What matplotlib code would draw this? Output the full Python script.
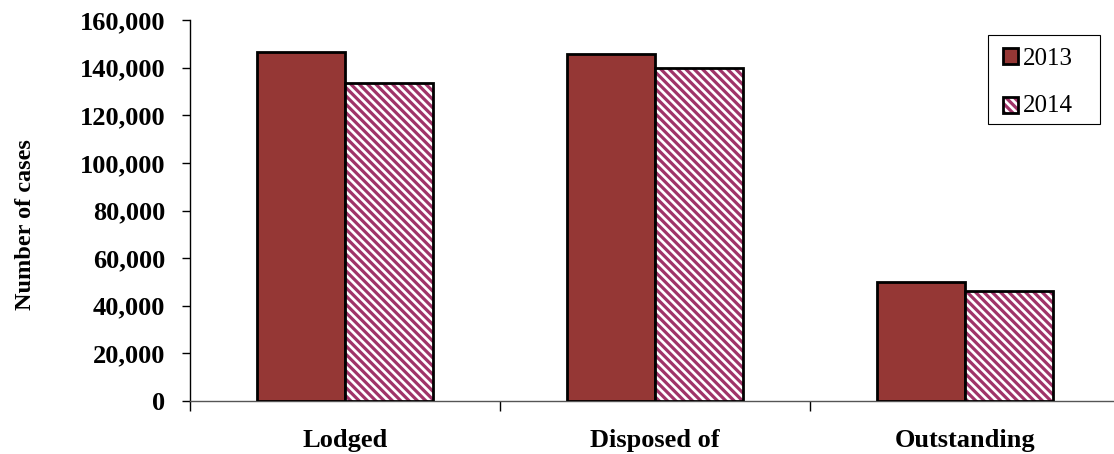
import matplotlib
matplotlib.use("Agg")
import matplotlib.pyplot as plt
import numpy as np
from matplotlib.patches import Patch, Rectangle
from matplotlib.ticker import FuncFormatter
from matplotlib.legend_handler import HandlerBase

categories = ["Lodged", "Disposed of", "Outstanding"]
years = ["2013", "2014"]
cases2013 = [146700, 145800, 50000]
cases2014 = [133400, 139800, 46300]

solidColor = "#953735"
hatchColor = "#A03468"
hatchPattern = "\\\\\\\\"

plt.rcParams["font.family"] = ["Liberation Serif", "DejaVu Serif"]
plt.rcParams["hatch.linewidth"] = 2.3

fig = plt.figure(figsize=(11.14, 4.54), dpi=100)
ax = fig.add_axes([190 / 1114, 53 / 454, 930 / 1114, 381 / 454])

xPos = np.arange(len(categories))
barWidth = 0.285
ax.bar(xPos - barWidth / 2, cases2013, barWidth, color=solidColor, edgecolor="black", linewidth=2.0, zorder=3)
# hatch takes the edge colour, so fill with the coloured hatch first and outline in black on top
ax.bar(xPos + barWidth / 2, cases2014, barWidth, color="white", edgecolor=hatchColor, linewidth=0,
       hatch=hatchPattern, zorder=3)
ax.bar(xPos + barWidth / 2, cases2014, barWidth, fill=False, edgecolor="black", linewidth=2.0, zorder=4)

ax.set_xlim(-0.5, 2.5)
ax.set_ylim(0, 160000)
ax.set_yticks(np.arange(0, 160001, 20000))
ax.yaxis.set_major_formatter(FuncFormatter(lambda v, p: f"{int(v):,}"))
ax.set_xticks(xPos)
ax.set_xticklabels(categories, fontsize=19, fontweight="bold")
ax.set_xticks([-0.5, 0.5, 1.5, 2.5], minor=True)
ax.tick_params(axis="x", which="major", length=0, pad=20)
ax.tick_params(axis="x", which="minor", length=7, direction="out", width=1)
ax.tick_params(axis="y", length=6, width=1, direction="out", pad=12)
for lbl in ax.get_yticklabels():
    lbl.set_fontsize(19)
    lbl.set_fontweight("bold")
ax.set_ylabel("Number of cases", fontsize=17.5, fontweight="bold")
ax.yaxis.set_label_coords(-0.166, 0.462)

ax.spines["top"].set_visible(False)
ax.spines["right"].set_visible(False)
ax.spines["left"].set_linewidth(1)
ax.spines["bottom"].set_linewidth(1)
ax.spines["bottom"].set_color("#555555")


class HatchSquare(HandlerBase):
    def create_artists(self, legend, orig, xd, yd, width, height, fontsize, trans):
        back = Rectangle((xd, yd), width, height, facecolor="white", edgecolor=hatchColor,
                         linewidth=0, hatch="\\\\\\\\", transform=trans)
        edge = Rectangle((xd, yd), width, height, fill=False, edgecolor="black",
                         linewidth=2.0, transform=trans)
        return [back, edge]


handles = [
    Patch(facecolor=solidColor, edgecolor="black", linewidth=2.0),
    Patch(facecolor="white", edgecolor="black"),
]
leg = fig.legend(handles, years, loc="upper left", bbox_to_anchor=(1003 / 1114, 1 - 48 / 454),
                 fontsize=18, frameon=False, borderpad=0, borderaxespad=0,
                 handlelength=0.6, handleheight=0.6, handletextpad=0.2, labelspacing=1.0,
                 handler_map={handles[1]: HatchSquare()})

# legend box drawn on its own, it is wider than the entries
fig.patches.append(Rectangle((988 / 1114, 1 - 124 / 454), 112 / 1114, 89 / 454, transform=fig.transFigure,
                             fill=False, edgecolor="black", linewidth=0.8))

fig.savefig("out.png", dpi=100)
